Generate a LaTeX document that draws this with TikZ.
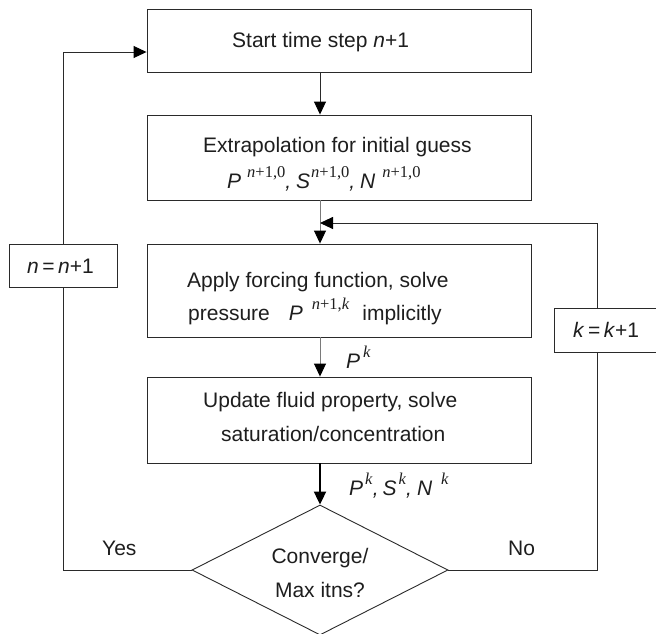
\documentclass[tikz,border=0pt]{standalone}
\usepackage{fontspec}
\setmainfont{Liberation Sans}
\newfontfamily\supserif{Liberation Serif}
\usetikzlibrary{arrows.meta,shapes.geometric}
\definecolor{txtc}{HTML}{1E1E1E}
\definecolor{linec}{HTML}{2A2A2A}
\definecolor{greyline}{HTML}{7A7A7A}
% superscript set in a serif face, raised above the base letter
\newcommand\upidx[1]{\raisebox{11pt}{\fontsize{16.5pt}{16.5pt}\selectfont\supserif #1}}
\begin{document}
\begin{tikzpicture}[x=1pt,y=-1pt,
  box/.style={draw=linec, line width=0.9pt, fill=white, inner sep=0pt},
  txt/.style={anchor=base west, inner sep=0pt, text=txtc, font=\fontsize{21pt}{25pt}\selectfont},
  ctxt/.style={txt, anchor=base},
  conn/.style={draw=linec, line width=0.9pt},
  arr/.style={conn, -{Triangle[length=13pt,width=12pt,color=black]}},
  greyarr/.style={arr, draw=greyline},
  thickarr/.style={draw=black, line width=2pt, -{Triangle[length=13pt,width=12pt]}}
]
\clip (0,0) rectangle (656,633);
\fill[white] (0,0) rectangle (656,633);

% process boxes
\node[box, minimum width=384pt, minimum height=63pt] (b1) at (339,40.5) {};
\node[box, minimum width=384pt, minimum height=85pt] (b2) at (339,157.5) {};
\node[box, minimum width=384pt, minimum height=93pt] (b3) at (339.5,290.5) {};
\node[box, minimum width=384pt, minimum height=86pt] (b4) at (339.5,420) {};

% decision
\node[draw=linec, line width=0.9pt, diamond, inner sep=0pt, minimum width=256pt, minimum height=130pt] (dia) at (320,570) {};

% counter boxes on the loops
\node[box, minimum width=108pt, minimum height=43pt] (nbox) at (63,265.5) {};
\node[box, minimum width=106pt, minimum height=44pt] (kbox) at (607,330) {};

% box texts
\node[txt] (t1) at (232,47) {Start time step \textit{n}+1};
\node[txt] (t2a) at (203,152) {Extrapolation for initial guess};
\node[txt] (t2b) at (227,188) {\textit{P}\hspace{6pt}\upidx{\textit{n}+1,0}\textit{,}\hspace{5pt}\textit{S}\hspace{1pt}\upidx{\textit{n}+1,0}\textit{,}\hspace{5pt}\textit{N}\hspace{7pt}\upidx{\textit{n}+1,0}};
\node[txt] (t3a) at (187,287) {Apply forcing function, solve};
\node[txt] (t3b) at (188,320) {pressure\hspace{19pt}\textit{P}\hspace{9pt}\upidx{\textit{n}+1,\textit{k}}\hspace{13pt}implicitly};
\node[txt] (t4a) at (203,407) {Update fluid property, solve};
\node[txt] (t4b) at (221,441) {saturation/concentration};
\node[ctxt] (t5a) at (320,563) {Converge/};
\node[ctxt] (t5b) at (320,597) {Max itns?};
\node[txt] (tn) at (27,273) {\textit{n}\,=\,\textit{n}+1};
\node[txt] (tk) at (573,337) {\textit{k}\,=\,\textit{k}+1};

% edge labels
\node[txt] (lp) at (346,368) {\textit{P}\hspace{3pt}\upidx{\textit{k}}};
\node[txt] (lpsn) at (349,495) {\textit{P}\hspace{2pt}\upidx{\textit{k}}\textit{,}\hspace{4pt}\textit{S}\hspace{2pt}\upidx{\textit{k}}\textit{,}\hspace{5pt}\textit{N}\hspace{9pt}\upidx{\textit{k}}};
\node[txt] (lyes) at (102,555) {Yes};
\node[txt] (lno) at (508,555) {No};

% main flow
\coordinate (merge) at (320,223);
\draw[arr] (b1.south -| dia) -- (b2.north -| dia);
\draw[greyarr] (b2.south -| dia) -- (b3.north -| dia);
\draw[greyarr] (b3.south -| dia) -- (b4.north -| dia);
\draw[thickarr] (b4.south -| dia) -- (dia.north);

% outer loop: next time step
\coordinate (lc) at (63,570);
\draw[conn] (dia.west) -- (lc) -- (lc |- nbox.south);
\draw[arr] (lc |- nbox.north) |- (b1.west |- 0,52);

% inner loop: next iteration
\coordinate (rc) at (597,570);
\draw[conn] (dia.east) -- (rc) -- (rc |- kbox.south);
\draw[arr] (rc |- kbox.north) |- (merge);
\end{tikzpicture}
\end{document}
